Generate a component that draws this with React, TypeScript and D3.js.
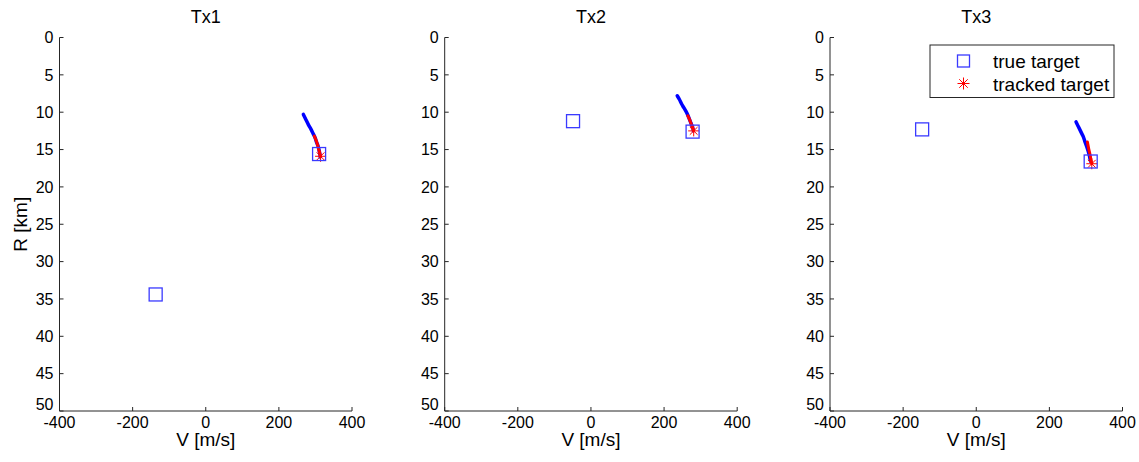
import { useEffect, useRef } from "react";
import * as d3 from "d3";

// panel titles
const titles = ["Tx1", "Tx2", "Tx3"];

// true target positions per panel: [V m/s, R km]
const trueTargets: [number, number][][] = [
  [[-137, 34.4], [310, 15.6]],
  [[-49, 11.2], [278, 12.6]],
  [[-148, 12.3], [313, 16.6]],
];

// estimated (blue) track per panel
const blueTracks: [number, number][][] = [
  [[267, 10.3], [273, 10.9], [281, 11.7], [288, 12.3], [294, 12.9], [299, 13.4], [303, 14.0], [307, 14.5], [310, 15.1], [312, 15.6], [313, 16.0]],
  [[236, 7.8], [242, 8.3], [248, 8.9], [254, 9.4], [260, 9.9], [265, 10.4], [269, 10.9], [273, 11.4], [276, 11.8], [279, 12.2], [280, 12.5]],
  [[273, 11.3], [278, 11.8], [284, 12.4], [289, 12.9], [293, 13.3], [297, 13.9], [302, 14.6], [306, 15.2], [309, 15.7], [311, 16.2], [313, 16.6]],
];

// tracked (red) segment per panel
const redTracks: [number, number][][] = [
  [[297, 13.2], [302, 13.8], [306, 14.4], [309, 15.0], [312, 15.5], [314, 15.9]],
  [[265, 10.5], [269, 10.9], [273, 11.4], [276, 11.8], [279, 12.2], [281, 12.5]],
  [[304, 14.0], [306, 14.5], [308, 15.0], [310, 15.4], [312, 15.9], [314, 16.4], [316, 16.9]],
];

const xTicks = [-400, -200, 0, 200, 400];
const yTicks = [0, 5, 10, 15, 20, 25, 30, 35, 40, 45, 50];

const W = 1139;
const H = 462;
const panelLeft = [59.5, 444.7, 830];
const panelW = 292.5;
const top = 37.5;
const bottom = 411;
const FONT = "'Liberation Sans', Arial, Helvetica, sans-serif";

function starPath(r: number) {
  let p = "";
  for (let i = 0; i < 4; i++) {
    const a = (i * Math.PI) / 4;
    const dx = r * Math.cos(a);
    const dy = r * Math.sin(a);
    p += `M${-dx},${-dy}L${dx},${dy}`;
  }
  return p;
}

export default function App() {
  const svgRef = useRef<SVGSVGElement>(null);

  useEffect(() => {
    const svg = d3.select(svgRef.current);
    svg.selectAll("*").remove();

    const y = d3.scaleLinear().domain([0, 50]).range([top, bottom]);

    titles.forEach((t, i) => {
      const x = d3
        .scaleLinear()
        .domain([-400, 400])
        .range([panelLeft[i], panelLeft[i] + panelW]);
      const g = svg.append("g");

      // axes lines
      g.append("path")
        .attr("d", `M${x(-400)},${y(0)}V${y(50)}H${x(400)}`)
        .attr("fill", "none")
        .attr("stroke", "#262626")
        .attr("stroke-width", 1);

      // y ticks
      yTicks.forEach((v) => {
        g.append("line")
          .attr("x1", x(-400))
          .attr("x2", x(-400) + 4)
          .attr("y1", y(v))
          .attr("y2", y(v))
          .attr("stroke", "#262626");
        g.append("text")
          .attr("x", x(-400) - 6)
          .attr("y", y(v))
          .attr("dy", v === 50 ? "-0.05em" : "0.36em")
          .attr("text-anchor", "end")
          .attr("font-family", FONT)
          .attr("font-size", 16)
          .text(v);
      });

      // x ticks
      xTicks.forEach((v) => {
        g.append("line")
          .attr("x1", x(v))
          .attr("x2", x(v))
          .attr("y1", y(50))
          .attr("y2", y(50) - 4)
          .attr("stroke", "#262626");
        g.append("text")
          .attr("x", x(v))
          .attr("y", y(50) + 17)
          .attr("text-anchor", "middle")
          .attr("font-family", FONT)
          .attr("font-size", 16)
          .text(v);
      });

      // title
      g.append("text")
        .attr("x", (x(-400) + x(400)) / 2)
        .attr("y", 23)
        .attr("text-anchor", "middle")
        .attr("font-family", FONT)
        .attr("font-size", 18)
        .text(t);

      // x label
      g.append("text")
        .attr("x", (x(-400) + x(400)) / 2)
        .attr("y", 446)
        .attr("text-anchor", "middle")
        .attr("font-family", FONT)
        .attr("font-size", 19)
        .text("V [m/s]");

      const line = d3
        .line<[number, number]>()
        .x((d) => x(d[0]))
        .y((d) => y(d[1]))
        .curve(d3.curveCatmullRom);

      g.append("path")
        .datum(blueTracks[i])
        .attr("d", line)
        .attr("fill", "none")
        .attr("stroke", "#0000ff")
        .attr("stroke-width", 3.5)
        .attr("stroke-linecap", "round");

      g.append("path")
        .datum(redTracks[i])
        .attr("d", line)
        .attr("fill", "none")
        .attr("stroke", "#ff0000")
        .attr("stroke-width", 3)
        .attr("stroke-linecap", "round");

      const last = redTracks[i][redTracks[i].length - 1];
      g.append("path")
        .attr("d", starPath(5.5))
        .attr("transform", `translate(${x(last[0])},${y(last[1])})`)
        .attr("stroke", "#ff0000")
        .attr("stroke-width", 1);

      trueTargets[i].forEach((d) => {
        g.append("rect")
          .attr("x", x(d[0]) - 6.5)
          .attr("y", y(d[1]) - 6.5)
          .attr("width", 13)
          .attr("height", 13)
          .attr("fill", "none")
          .attr("stroke", "#3a3aff")
          .attr("stroke-width", 1.3);
      });
    });

    // y label
    svg
      .append("text")
      .attr("transform", `translate(27,${(top + bottom) / 2}) rotate(-90)`)
      .attr("text-anchor", "middle")
      .attr("font-family", FONT)
      .attr("font-size", 19)
      .text("R [km]");

    // legend
    const lg = svg.append("g");
    lg.append("rect")
      .attr("x", 930)
      .attr("y", 45)
      .attr("width", 184)
      .attr("height", 52.5)
      .attr("fill", "#fff")
      .attr("stroke", "#262626")
      .attr("stroke-width", 1);
    lg.append("rect")
      .attr("x", 957.5)
      .attr("y", 55)
      .attr("width", 12)
      .attr("height", 12)
      .attr("fill", "none")
      .attr("stroke", "#3a3aff")
      .attr("stroke-width", 1.3);
    lg.append("path")
      .attr("d", starPath(6))
      .attr("transform", "translate(963.5,83.5)")
      .attr("stroke", "#ff0000")
      .attr("stroke-width", 1);
    const legendItems = ["true target", "tracked target"];
    legendItems.forEach((s, k) => {
      lg.append("text")
        .attr("x", 993)
        .attr("y", 67.5 + k * 23)
        .attr("font-family", FONT)
        .attr("font-size", 19)
        .text(s);
    });
  }, []);

  return (
    <svg
      ref={svgRef}
      width={W}
      height={H}
      style={{ position: "absolute", left: 0, top: 0, background: "#fff" }}
    />
  );
}
